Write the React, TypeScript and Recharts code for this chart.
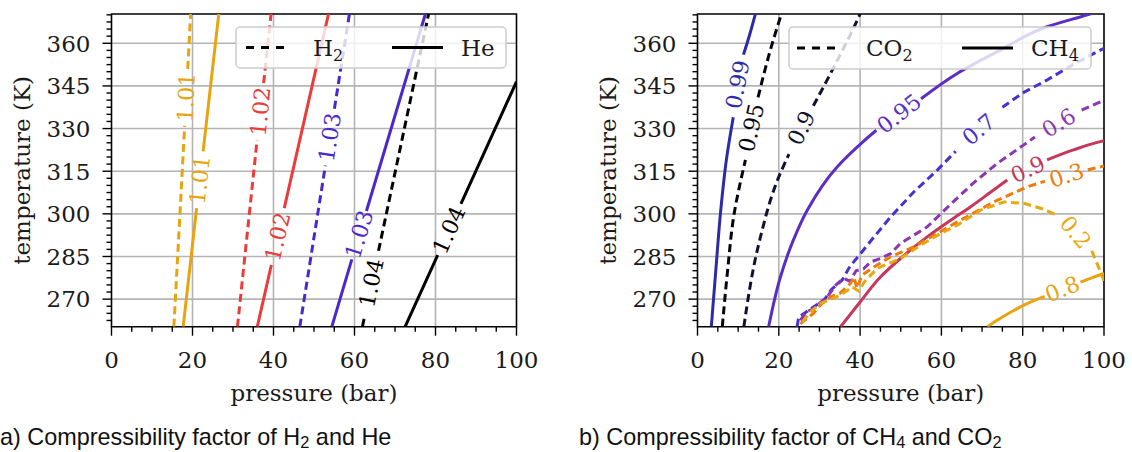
import { ComposedChart, Line, Scatter, XAxis, YAxis, CartesianGrid, ReferenceArea, Label } from 'recharts';

// axis ticks (major carry labels, minor ticks are unlabeled)
const pMajor = [0, 20, 40, 60, 80, 100];
const tMajor = [270, 285, 300, 315, 330, 345, 360];
const P_RANGE: [number, number] = [0, 100];
const T_RANGE: [number, number] = [260.3, 370.3];

const pTicks: number[] = [];
for (let v = 0; v <= 100; v += 5) pTicks.push(v);
const tTicks: number[] = [];
for (let v = 262.5; v <= 370; v += 2.5) tTicks.push(v);

type Pt = { p: number; T: number | null };

// ---- panel a: H2 (dashed) / He (solid); T: null marks the gap left for the inline label
const h2_101: Pt[] = [{ p: 15.4, T: 260.3 }, { p: 16.9, T: 300 }, { p: 18.07, T: 331 }, { p: 18.4, T: null }, { p: 18.82, T: 351 }, { p: 19.6, T: 371.7 }];
const he_101: Pt[] = [{ p: 17.7, T: 260.3 }, { p: 21.02, T: 302 }, { p: 21.8, T: null }, { p: 22.62, T: 322 }, { p: 26.6, T: 371.7 }];
const h2_102: Pt[] = [{ p: 31.1, T: 260.3 }, { p: 35.95, T: 326 }, { p: 36.8, T: null }, { p: 37.56, T: 346 }, { p: 39.5, T: 371.7 }];
const he_102: Pt[] = [{ p: 36.0, T: 260.3 }, { p: 39.47, T: 282 }, { p: 41.0, T: null }, { p: 42.66, T: 302 }, { p: 53.8, T: 371.7 }];
const h2_103: Pt[] = [{ p: 46.5, T: 260.3 }, { p: 52.81, T: 317 }, { p: 53.9, T: null }, { p: 55.04, T: 337 }, { p: 58.9, T: 371.7 }];
const he_103: Pt[] = [{ p: 54.4, T: 260.3 }, { p: 59.34, T: 284 }, { p: 61.2, T: null }, { p: 62.95, T: 301 }, { p: 77.8, T: 371.7 }];
const h2_104: Pt[] = [{ p: 61.95, T: 260.3 }, { p: 62.58, T: 264.5 }, { p: 64.3, T: null }, { p: 65.93, T: 287 }, { p: 78.5, T: 371.7 }];
const he_104: Pt[] = [{ p: 72.5, T: 260.3 }, { p: 80.54, T: 285.5 }, { p: 83.3, T: null }, { p: 86.28, T: 303.5 }, { p: 100, T: 346.5 }];

// ---- panel b: CO2 (dashed) / CH4 (solid)
const ch4_099: Pt[] = [{ p: 3.4, T: 260.3 }, { p: 4.5, T: 280 }, { p: 5.7, T: 301 }, { p: 7.2, T: 320 }, { p: 8.8, T: 334 }, { p: 9.9, T: null }, { p: 11.3, T: 356 }, { p: 12.2, T: 360 }, { p: 14.5, T: 371.7 }];
const co2_095: Pt[] = [{ p: 6.1, T: 260.3 }, { p: 7.4, T: 280 }, { p: 8.9, T: 299 }, { p: 11.8, T: 319 }, { p: 13.3, T: null }, { p: 14.9, T: 341 }, { p: 18.0, T: 358 }, { p: 20.3, T: 368.8 }, { p: 21.0, T: 372 }];
const co2_090: Pt[] = [{ p: 11.4, T: 260.3 }, { p: 15.1, T: 289.6 }, { p: 20.0, T: 313 }, { p: 22.5, T: 321 }, { p: 25.6, T: null }, { p: 28.5, T: 338 }, { p: 34.4, T: 354 }, { p: 39.7, T: 369.4 }, { p: 40.5, T: 372 }];
const ch4_095: Pt[] = [{ p: 17.5, T: 260.3 }, { p: 20.4, T: 277.8 }, { p: 23.5, T: 290.5 }, { p: 27.0, T: 301.3 }, { p: 34.4, T: 316.6 }, { p: 40.9, T: 325.6 }, { p: 44.0, T: 329.4 }, { p: 49.6, T: null }, { p: 55.0, T: 340.5 }, { p: 63.9, T: 349.4 }, { p: 74.5, T: 357.6 }, { p: 86.0, T: 365.8 }, { p: 95.9, T: 370 }, { p: 100, T: 371.8 }];
const co2_070: Pt[] = [{ p: 24.5, T: 260.3 }, { p: 24.9, T: 263.7 }, { p: 26.5, T: 265.2 }, { p: 28.6, T: 267.3 }, { p: 31.1, T: 269.6 }, { p: 33.0, T: 273.5 }, { p: 35.6, T: 276.7 }, { p: 37.5, T: 281.5 }, { p: 40.1, T: 286 }, { p: 43.5, T: 292 }, { p: 47.5, T: 298.9 }, { p: 53.2, T: 307.7 }, { p: 59.0, T: 315.4 }, { p: 63.5, T: 322 }, { p: 69.2, T: null }, { p: 75.0, T: 337.5 }, { p: 80.0, T: 342.5 }, { p: 86.0, T: 347.1 }, { p: 92.5, T: 352.6 }, { p: 99.1, T: 357.6 }, { p: 100, T: 358.2 }];
const co2_060: Pt[] = [{ p: 25.3, T: 262.5 }, { p: 26.8, T: 265.5 }, { p: 28.6, T: 266.7 }, { p: 32.0, T: 271 }, { p: 34.2, T: 275.2 }, { p: 36.0, T: 277.3 }, { p: 37.5, T: 276.3 }, { p: 39.0, T: 280 }, { p: 40.8, T: 280.6 }, { p: 42.6, T: 283.1 }, { p: 45.0, T: 284.3 }, { p: 47.5, T: 286 }, { p: 49.9, T: 289.6 }, { p: 56.5, T: 295.4 }, { p: 63.1, T: 304.5 }, { p: 68.0, T: 311 }, { p: 73.7, T: 317.7 }, { p: 80.0, T: 324 }, { p: 83.0, T: 327 }, { p: 88.9, T: null }, { p: 94.5, T: 336.5 }, { p: 99.1, T: 339.4 }, { p: 100, T: 340 }];
const ch4_090: Pt[] = [{ p: 35.2, T: 260.3 }, { p: 40.0, T: 269 }, { p: 45.0, T: 277.8 }, { p: 50.5, T: 285 }, { p: 56.5, T: 291.9 }, { p: 62.0, T: 297.5 }, { p: 67.2, T: 302.5 }, { p: 72.0, T: 307.5 }, { p: 76.2, T: 311.9 }, { p: 81.3, T: null }, { p: 86.0, T: 319 }, { p: 92.5, T: 322.5 }, { p: 99.1, T: 325.4 }, { p: 100, T: 325.7 }];
const co2_030: Pt[] = [{ p: 25.3, T: 261.3 }, { p: 28.5, T: 265 }, { p: 30.5, T: 268.3 }, { p: 32.7, T: 270.8 }, { p: 35.0, T: 272 }, { p: 37.6, T: 275.5 }, { p: 38.5, T: 277.8 }, { p: 39.2, T: 273.8 }, { p: 40.5, T: 278.5 }, { p: 43.4, T: 281.3 }, { p: 47.5, T: 284.9 }, { p: 53.2, T: 288.4 }, { p: 59.0, T: 293.1 }, { p: 64.7, T: 297.8 }, { p: 72.9, T: 304.2 }, { p: 81.1, T: 309.5 }, { p: 85.5, T: 311.5 }, { p: 90.8, T: null }, { p: 96.0, T: 315.5 }, { p: 100, T: 316.8 }];
const co2_020: Pt[] = [{ p: 25.8, T: 262 }, { p: 28.0, T: 265.8 }, { p: 30.3, T: 268.5 }, { p: 35.2, T: 271.4 }, { p: 38.1, T: 274.3 }, { p: 39.7, T: 272.8 }, { p: 41.0, T: 276 }, { p: 44.2, T: 280.8 }, { p: 49.9, T: 284.3 }, { p: 54.9, T: 289 }, { p: 59.8, T: 293.1 }, { p: 63.9, T: 296 }, { p: 69.6, T: 301.3 }, { p: 75.4, T: 304.2 }, { p: 80.3, T: 303.7 }, { p: 84.8, T: 301.8 }, { p: 88.5, T: 299.5 }, { p: 93.0, T: null }, { p: 97.0, T: 287 }, { p: 98.3, T: 282.5 }, { p: 99.3, T: 279 }, { p: 100, T: 276.5 }];
const ch4_080: Pt[] = [{ p: 71.3, T: 260.3 }, { p: 74.0, T: 262.8 }, { p: 77.8, T: 266 }, { p: 82.0, T: 269 }, { p: 85.4, T: 271 }, { p: 89.8, T: null }, { p: 94.2, T: 276 }, { p: 97.0, T: 277.5 }, { p: 100, T: 279 }];

interface Contour {
  key: string;
  data: Pt[];
  color: string;
  dashed: boolean;
  smooth: boolean;
  label: string;
  at: Pt;
  angle: number;
}

const panelA: Contour[] = [
  { key: 'h2_101', data: h2_101, color: '#e9a30f', dashed: true, smooth: false, label: '1.01', at: { p: 18.45, T: 341 }, angle: -87 },
  { key: 'he_101', data: he_101, color: '#e9a30f', dashed: false, smooth: false, label: '1.01', at: { p: 21.83, T: 312 }, angle: -83.5 },
  { key: 'h2_102', data: h2_102, color: '#ec3b3b', dashed: true, smooth: false, label: '1.02', at: { p: 36.8, T: 336 }, angle: -84 },
  { key: 'he_102', data: he_102, color: '#ec3b3b', dashed: false, smooth: false, label: '1.02', at: { p: 41.07, T: 292 }, angle: -77 },
  { key: 'h2_103', data: h2_103, color: '#4a28cc', dashed: true, smooth: false, label: '1.03', at: { p: 53.92, T: 327 }, angle: -81 },
  { key: 'he_103', data: he_103, color: '#4a28cc', dashed: false, smooth: false, label: '1.03', at: { p: 61.2, T: 292.8 }, angle: -73 },
  { key: 'h2_104', data: h2_104, color: '#000000', dashed: true, smooth: false, label: '1.04', at: { p: 64.2, T: 275.7 }, angle: -78 },
  { key: 'he_104', data: he_104, color: '#000000', dashed: false, smooth: false, label: '1.04', at: { p: 83.35, T: 294.3 }, angle: -65.6 },
];

const panelB: Contour[] = [
  { key: 'ch4_099', data: ch4_099, color: '#2f2ba6', dashed: false, smooth: true, label: '0.99', at: { p: 9.9, T: 345.5 }, angle: -79 },
  { key: 'co2_095', data: co2_095, color: '#050510', dashed: true, smooth: true, label: '0.95', at: { p: 13.3, T: 330.3 }, angle: -77 },
  { key: 'co2_090', data: co2_090, color: '#111133', dashed: true, smooth: true, label: '0.9', at: { p: 25.6, T: 330.2 }, angle: -64 },
  { key: 'ch4_095', data: ch4_095, color: '#5a2ec4', dashed: false, smooth: true, label: '0.95', at: { p: 49.6, T: 335.2 }, angle: -38 },
  { key: 'co2_070', data: co2_070, color: '#4a30d4', dashed: true, smooth: false, label: '0.7', at: { p: 69.2, T: 329.7 }, angle: -40 },
  { key: 'co2_060', data: co2_060, color: '#8c36b4', dashed: true, smooth: false, label: '0.6', at: { p: 88.9, T: 332 }, angle: -32 },
  { key: 'ch4_090', data: ch4_090, color: '#c6375c', dashed: false, smooth: true, label: '0.9', at: { p: 81.3, T: 315.6 }, angle: -25 },
  { key: 'co2_030', data: co2_030, color: '#ee7b0c', dashed: true, smooth: false, label: '0.3', at: { p: 90.8, T: 313.5 }, angle: -18 },
  { key: 'co2_020', data: co2_020, color: '#e9a810', dashed: true, smooth: false, label: '0.2', at: { p: 93.0, T: 293.5 }, angle: 50 },
  { key: 'ch4_080', data: ch4_080, color: '#e9a30f', dashed: false, smooth: true, label: '0.8', at: { p: 89.8, T: 273.5 }, angle: -22 },
];

const SERIF = '"DejaVu Serif", serif';
const SANS = '"Liberation Sans", Arial, sans-serif';
const TEXT = '#1a1a1a';
const FS = 23;

function XTick(props: any) {
  const { x, y, payload } = props;
  const major = pMajor.includes(payload.value);
  return (
    <g>
      <line x1={x} y1={y} x2={x} y2={y + (major ? 9 : 5)} stroke="#000" strokeWidth={1.4} />
      {major && (
        <text x={x} y={y + 41} textAnchor="middle" fontSize={FS} fontFamily={SERIF} fill={TEXT}>
          {payload.value}
        </text>
      )}
    </g>
  );
}

function YTick(props: any) {
  const { x, y, payload } = props;
  const major = tMajor.includes(payload.value);
  return (
    <g>
      <line x1={x - (major ? 9 : 5)} y1={y} x2={x} y2={y} stroke="#000" strokeWidth={1.4} />
      {major && (
        <text x={x - 21} y={y + 8.3} textAnchor="end" fontSize={FS} fontFamily={SERIF} fill={TEXT}>
          {payload.value}
        </text>
      )}
    </g>
  );
}

const XTitle = (props: any) => {
  const vb = props.viewBox;
  return (
    <text x={vb.x + vb.width / 2} y={vb.y + 74} textAnchor="middle" fontSize={FS} fontFamily={SERIF} fill={TEXT}>
      pressure (bar)
    </text>
  );
};

const YTitle = (props: any) => {
  const vb = props.viewBox;
  const cx = vb.x + 21.7;
  const cy = vb.y + vb.height / 2;
  return (
    <text x={cx} y={cy} transform={`rotate(-90 ${cx} ${cy})`} textAnchor="middle" dominantBaseline="central" fontSize={FS} fontFamily={SERIF} fill={TEXT}>
      temperature (K)
    </text>
  );
};

const labelShape = (c: Contour) => (props: any) => {
  const { cx, cy } = props;
  return (
    <text x={cx} y={cy} transform={`rotate(${c.angle} ${cx} ${cy})`} textAnchor="middle" dominantBaseline="central" fontSize={22} fontFamily={SERIF} fill={c.color}>
      {c.label}
    </text>
  );
};

function Panel({ left, width, contours }: { left: number; width: number; contours: Contour[] }) {
  return (
    <div style={{ position: 'absolute', left, top: 0 }}>
      <ComposedChart width={width} height={420} margin={{ top: 14, right: 30, bottom: 0, left: 0 }}>
        <CartesianGrid verticalValues={[20, 40, 60, 80]} horizontalValues={tMajor} stroke="#b4b4b4" strokeWidth={1.6} />
        <XAxis type="number" dataKey="p" domain={P_RANGE} allowDataOverflow ticks={pTicks} interval={0}
          tick={<XTick />} tickLine={false} axisLine={false} tickSize={0} tickMargin={0} height={93.3}>
          <Label content={XTitle} />
        </XAxis>
        <YAxis type="number" dataKey="T" domain={T_RANGE} allowDataOverflow ticks={tTicks} interval={0}
          tick={<YTick />} tickLine={false} axisLine={false} tickSize={0} tickMargin={0} width={111.5}>
          <Label content={YTitle} />
        </YAxis>
        {contours.map((c) => (
          <Line key={c.key} data={c.data} dataKey="T" type={c.smooth ? 'monotoneY' : 'linear'}
            stroke={c.color} strokeWidth={3}
            strokeDasharray={c.dashed ? '8 4.5' : undefined} dot={false} activeDot={false}
            connectNulls={false} isAnimationActive={false} />
        ))}
        {contours.map((c) => (
          <Scatter key={c.key + '_label'} data={[c.at]} dataKey="T" shape={labelShape(c)} isAnimationActive={false} />
        ))}
        <ReferenceArea x1={P_RANGE[0]} x2={P_RANGE[1]} y1={T_RANGE[0]} y2={T_RANGE[1]} fill="none"
          fillOpacity={0} stroke="#000" strokeWidth={1.6} ifOverflow="visible" />
      </ComposedChart>
    </div>
  );
}

interface LegendItem { x1: number; x2: number; dashed: boolean; textX: number; main: string; sub?: string }

function LegendBox({ x, y, w, h, items }: { x: number; y: number; w: number; h: number; items: LegendItem[] }) {
  const mid = y + h / 2;
  return (
    <svg style={{ position: 'absolute', left: 0, top: 0 }} width={1132} height={452} pointerEvents="none">
      <rect x={x} y={y} width={w} height={h} rx={4} fill="#fff" fillOpacity={0.8} stroke="#cccccc" strokeWidth={1.5} />
      {items.map((it) => (
        <g key={it.main + (it.sub || '')}>
          <line x1={it.x1} y1={mid} x2={it.x2} y2={mid} stroke="#000" strokeWidth={3.2} strokeDasharray={it.dashed ? '8 7' : undefined} />
          <text x={it.textX} y={mid + 8} fontSize={FS} fontFamily={SERIF} fill={TEXT}>
            {it.main}
            {it.sub && <tspan fontSize={16} dy={5}>{it.sub}</tspan>}
          </text>
        </g>
      ))}
    </svg>
  );
}

const sub = { fontSize: '0.7em', verticalAlign: '-0.18em', lineHeight: 0 } as const;

export default function App() {
  return (
    <div style={{ position: 'absolute', left: 0, top: 0, width: 1132, height: 452, background: '#fff', overflow: 'hidden' }}>
      <Panel left={0} width={546.5} contours={panelA} />
      <Panel left={585.5} width={548} contours={panelB} />
      <LegendBox x={236} y={27} w={270} h={41} items={[
        { x1: 246, x2: 286, dashed: true, textX: 313, main: 'H', sub: '2' },
        { x1: 392, x2: 443, dashed: false, textX: 461, main: 'He' },
      ]} />
      <LegendBox x={789} y={27} w={302} h={42} items={[
        { x1: 797, x2: 838, dashed: true, textX: 866, main: 'CO', sub: '2' },
        { x1: 962, x2: 1013, dashed: false, textX: 1031, main: 'CH', sub: '4' },
      ]} />
      <div style={{ position: 'absolute', left: 0, top: 423.5, fontFamily: SANS, fontSize: 23.4, color: '#111', whiteSpace: 'nowrap' }}>
        a) Compressibility factor of H<span style={sub}>2</span> and He
      </div>
      <div style={{ position: 'absolute', left: 579, top: 423.5, fontFamily: SANS, fontSize: 23.4, color: '#111', whiteSpace: 'nowrap' }}>
        b) Compressibility factor of CH<span style={sub}>4</span> and CO<span style={sub}>2</span>
      </div>
    </div>
  );
}
